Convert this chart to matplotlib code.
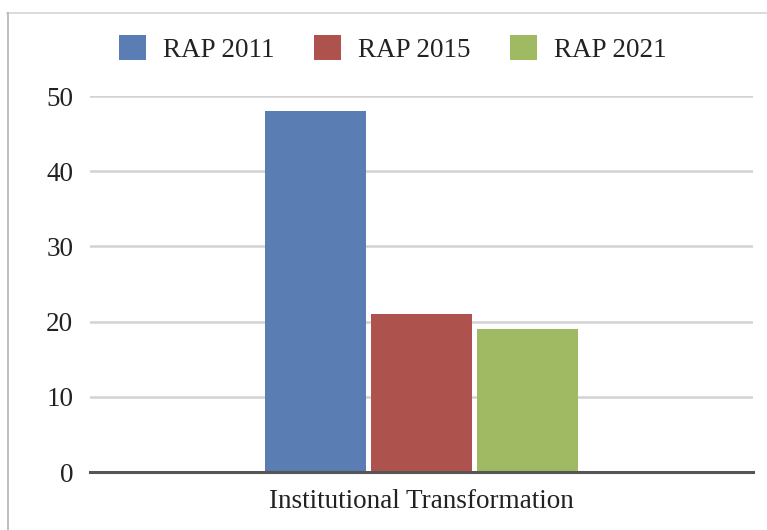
import numpy as np
import matplotlib.pyplot as plt
from matplotlib.lines import Line2D
from matplotlib.patches import Patch

plt.rcParams['font.family'] = ['Liberation Serif', 'DejaVu Serif']

categories = ['Institutional Transformation']
series = ['RAP 2011', 'RAP 2015', 'RAP 2021']
values = [48, 21, 19]
colors = ['#5a7db4', '#ad524d', '#9fba63']
yticks = [0, 10, 20, 30, 40, 50]

W, H = 767, 530
fig = plt.figure(figsize=(W / 100, H / 100), dpi=100)
ax = fig.add_axes([90 / W, 1 - 472 / H, 663 / W, 376 / H])

# outer frame (top and left edges only)
fig.add_artist(Line2D([7 / W, 1], [1 - 13 / H] * 2, color='#d4d4d4', lw=1.2))
fig.add_artist(Line2D([8 / W] * 2, [0, 1 - 13 / H], color='#b4b4b4', lw=1.2))

offsets = [-0.32, 0.0, 0.32]
for off, val, col in zip(offsets, values, colors):
    ax.bar(off, val, width=0.307, color=col, zorder=3)

ax.set_xlim(-1, 1)
ax.set_ylim(0, 50)
ax.set_yticks(yticks)
ax.set_yticklabels([str(t) for t in yticks], fontsize=19.5, color='#222222')
ax.set_xticks([0])
ax.set_xticklabels(categories, fontsize=19.5, color='#222222')
ax.tick_params(axis='both', length=0)
ax.tick_params(axis='y', pad=12)
ax.tick_params(axis='x', pad=12)

ax.grid(axis='y', color='#d2d2d2', lw=1.8, zorder=0)
for s in ['top', 'right', 'left']:
    ax.spines[s].set_visible(False)
ax.spines['bottom'].set_color('#555555')
ax.spines['bottom'].set_linewidth(2.2)
ax.spines['bottom'].set_zorder(4)

handles = [Patch(facecolor=c, edgecolor='none') for c in colors]
fig.legend(handles, series, loc='center', bbox_to_anchor=(393 / W, 1 - 49 / H),
           ncol=3, frameon=False, fontsize=19.5, handlelength=1.0, handleheight=1.05,
           handletextpad=0.63, columnspacing=1.45, labelcolor='#222222')

fig.savefig('out.png', dpi=100)
